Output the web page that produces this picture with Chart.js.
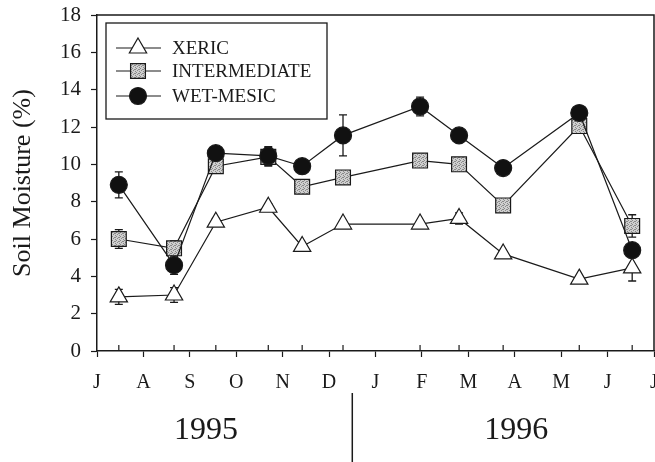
<!DOCTYPE html>
<html>
<head>
<meta charset="utf-8">
<script src="https://cdn.jsdelivr.net/npm/chart.js@4/dist/chart.umd.min.js"></script>
<style>
  html, body { margin: 0; padding: 0; background: #fff; }
</style>
</head>
<body>
<canvas id="c" width="655" height="462"></canvas>
<script>
// Sampling dates, in months after 1 July 1995
const sampleMonths = [0.47, 1.66, 2.56, 3.69, 4.42, 5.30, 6.96, 7.80, 8.75, 10.39, 11.53];
// Month initials for the ticks from July 1995 to July 1996
const monthLetters = ['J', 'A', 'S', 'O', 'N', 'D', 'J', 'F', 'M', 'A', 'M', 'J', 'J'];

// Mean soil moisture (%) per site type
const xeric        = [2.9, 3.0, 6.9, 7.7, 5.6, 6.8, 6.8, 7.1, 5.2, 3.85, 4.45];
const intermediate = [6.0, 5.5, 9.9, 10.4, 8.8, 9.3, 10.2, 10.0, 7.8, 12.05, 6.7];
const wetMesic     = [8.9, 4.6, 10.6, 10.45, 9.9, 11.55, 13.1, 11.55, 9.8, 12.75, 5.4];

// Standard errors
const xericErr        = [0.4, 0.4, 0.2, 0.2, 0.1, 0.1, 0.1, 0.3, 0.1, 0.1, 0.7];
const intermediateErr = [0.5, 0.4, 0.2, 0.5, 0.2, 0.2, 0.2, 0.2, 0.2, 0.3, 0.6];
const wetMesicErr     = [0.7, 0.5, 0.2, 0.5, 0.2, 1.1, 0.5, 0.2, 0.2, 0.2, 0.2];

const seriesNames = ['XERIC', 'INTERMEDIATE', 'WET-MESIC'];

// Year captions under the month axis, and the year boundary marker
const yearLabels = ['1995', '1996'];
const yearCenters = [2.35, 9.03];
const yearBoundary = 5.5;

const SERIF = '"Liberation Serif", "DejaVu Serif", serif';
const INK = '#1a1a1a';

const canvas = document.getElementById('c');
const ctx = canvas.getContext('2d');

// Speckled grey fill for the square markers
function makeStipple() {
  const t = document.createElement('canvas');
  t.width = 4; t.height = 4;
  const g = t.getContext('2d');
  g.fillStyle = '#cfcfcf';
  g.fillRect(0, 0, 4, 4);
  g.fillStyle = '#8a8a8a';
  [[0, 0], [2, 1], [1, 2], [3, 3], [3, 1]].forEach(([x, y]) => g.fillRect(x, y, 1, 1));
  return ctx.createPattern(t, 'repeat');
}
const stipple = makeStipple();

function toPoints(values) {
  return values.map((v, i) => ({ x: sampleMonths[i], y: v }));
}

const styles = [
  { pointStyle: 'triangle', radius: 10, fill: '#ffffff' },
  { pointStyle: 'rect', radius: 10.5, fill: stipple },
  { pointStyle: 'circle', radius: 8.5, fill: '#111111' }
];

const errors = [xericErr, intermediateErr, wetMesicErr];

const datasets = [xeric, intermediate, wetMesic].map((vals, i) => ({
  label: seriesNames[i],
  data: toPoints(vals),
  borderColor: INK,
  borderWidth: 1.2,
  pointStyle: styles[i].pointStyle,
  pointRadius: styles[i].radius,
  pointHoverRadius: styles[i].radius,
  pointBackgroundColor: styles[i].fill,
  pointBorderColor: INK,
  pointBorderWidth: 1.2,
  tension: 0,
  clip: false,
  order: 2 - i
}));

// Error bars with caps, under the markers
const errorBars = {
  id: 'errorBars',
  beforeDatasetsDraw(chart) {
    const { ctx, scales: { x, y } } = chart;
    ctx.save();
    ctx.strokeStyle = INK;
    ctx.lineWidth = 1.3;
    chart.data.datasets.forEach((ds, di) => {
      ds.data.forEach((p, i) => {
        const e = errors[di][i];
        const px = x.getPixelForValue(p.x);
        const top = y.getPixelForValue(p.y + e);
        const bot = y.getPixelForValue(p.y - e);
        ctx.beginPath();
        ctx.moveTo(px, top); ctx.lineTo(px, bot);
        ctx.moveTo(px - 4, top); ctx.lineTo(px + 4, top);
        ctx.moveTo(px - 4, bot); ctx.lineTo(px + 4, bot);
        ctx.stroke();
      });
    });
    ctx.restore();
  }
};

// Frame, sampling-date ticks, year captions and legend box
const decorations = {
  id: 'decorations',
  afterDraw(chart) {
    const { ctx, chartArea: a, scales: { x } } = chart;
    ctx.save();
    ctx.strokeStyle = INK;
    ctx.lineWidth = 1.5;
    // top and right edges of the frame
    ctx.beginPath();
    ctx.moveTo(a.left, a.top); ctx.lineTo(a.right, a.top); ctx.lineTo(a.right, a.bottom);
    ctx.stroke();

    // inward ticks at each sampling date
    ctx.lineWidth = 1.2;
    ctx.beginPath();
    sampleMonths.forEach(m => {
      const px = x.getPixelForValue(m);
      ctx.moveTo(px, a.bottom); ctx.lineTo(px, a.bottom - 6);
    });
    ctx.stroke();

    // year captions and divider
    ctx.fillStyle = INK;
    ctx.font = '32px ' + SERIF;
    ctx.textAlign = 'center';
    ctx.textBaseline = 'middle';
    yearLabels.forEach((t, i) => ctx.fillText(t, x.getPixelForValue(yearCenters[i]), a.bottom + 80));
    const bx = x.getPixelForValue(yearBoundary);
    ctx.lineWidth = 1.5;
    ctx.beginPath();
    ctx.moveTo(bx, a.bottom + 42); ctx.lineTo(bx, chart.height);
    ctx.stroke();

    // legend
    const lx = a.left + 9, ly = a.top + 8, lw = 221, lh = 96;
    ctx.fillStyle = '#fff';
    ctx.fillRect(lx, ly, lw, lh);
    ctx.lineWidth = 1.3;
    ctx.strokeRect(lx, ly, lw, lh);
    const rows = [25, 48, 73];
    chart.data.datasets.forEach((ds, i) => {
      const yy = ly + rows[i];
      ctx.lineWidth = 1.2;
      ctx.strokeStyle = INK;
      ctx.beginPath();
      ctx.moveTo(lx + 10, yy); ctx.lineTo(lx + 55, yy);
      ctx.stroke();
      ctx.fillStyle = ds.pointBackgroundColor;
      Chart.helpers.drawPoint(ctx, {
        pointStyle: ds.pointStyle,
        radius: ds.pointRadius,
        borderWidth: ds.pointBorderWidth,
        rotation: 0
      }, lx + 32, yy);
      ctx.fillStyle = INK;
      ctx.font = '19px ' + SERIF;
      ctx.textAlign = 'left';
      ctx.textBaseline = 'middle';
      ctx.fillText(ds.label, lx + 66, yy + 1);
    });
    ctx.restore();
  }
};

new Chart(ctx, {
  type: 'line',
  data: { datasets },
  plugins: [errorBars, decorations],
  options: {
    responsive: false,
    animation: false,
    events: [],
    layout: { autoPadding: false, padding: { top: 15, right: 1, left: 0, bottom: 0 } },
    plugins: { legend: { display: false }, tooltip: { enabled: false } },
    scales: {
      x: {
        type: 'linear',
        min: 0,
        max: 12,
        afterFit(s) { s.height = 111; s.paddingLeft = 0; s.paddingRight = 0; },
        ticks: {
          stepSize: 1,
          autoSkip: false,
          maxRotation: 0,
          padding: 14,
          color: INK,
          font: { family: SERIF, size: 20 },
          callback: v => monthLetters[v]
        },
        grid: { drawOnChartArea: false, tickLength: 6, tickColor: INK, tickWidth: 1.2 },
        border: { color: INK, width: 1.5 }
      },
      y: {
        min: 0,
        max: 18,
        afterFit(s) { s.width = 97; s.paddingTop = 0; s.paddingBottom = 0; },
        ticks: {
          stepSize: 2,
          padding: 10,
          color: INK,
          font: { family: SERIF, size: 21 }
        },
        grid: { drawOnChartArea: false, tickLength: 6, tickColor: INK, tickWidth: 1.2 },
        border: { color: INK, width: 1.5 },
        title: {
          display: true,
          text: 'Soil Moisture (%)',
          color: INK,
          font: { family: SERIF, size: 26 },
          padding: { top: 8, bottom: 0 }
        }
      }
    }
  }
});
</script>
</body>
</html>
